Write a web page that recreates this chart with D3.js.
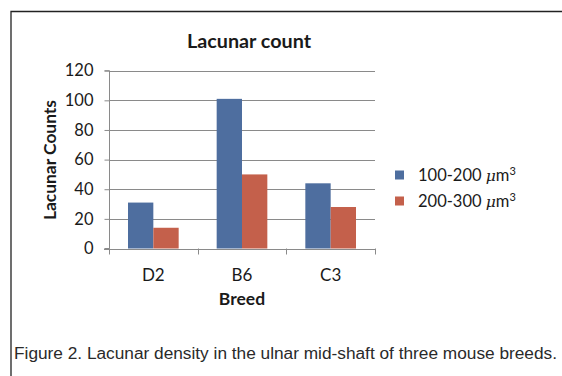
<!DOCTYPE html>
<html>
<head>
<meta charset="utf-8">
<script src="https://cdn.jsdelivr.net/npm/d3@7"></script>
<style>
  html, body { margin: 0; padding: 0; background: #fff; }
  svg { display: block; }
</style>
</head>
<body>
<svg id="chart" width="562" height="376"></svg>
<script>
// Lacunar counts per mouse breed, split by lacuna volume range
const breeds = ["D2", "B6", "C3"];
const seriesNames = ["100-200", "200-300"];
const counts100to200 = [31, 101, 44];
const counts200to300 = [14, 50, 28];
const yTicks = [0, 20, 40, 60, 80, 100, 120];
const seriesColors = ["#4e6e9f", "#c4604b"];

const seriesValues = [counts100to200, counts200to300];
const rows = breeds.map((b, i) => ({ breed: b, values: seriesValues.map(s => s[i]) }));

const svg = d3.select("#chart");
const font = "Lato, 'Noto Sans', sans-serif";
const ink = "#1a1a1a";

// Frame lines (top and left)
svg.append("path")
  .attr("d", "M11,376 V11.5 H562")
  .attr("fill", "none")
  .attr("stroke", "#222")
  .attr("stroke-width", 1.3);

const plot = { left: 109, right: 375, top: 70.7, bottom: 248.5 };

const x0 = d3.scaleBand().domain(breeds).range([plot.left, plot.right]).padding(0);
const x1 = d3.scaleBand().domain(d3.range(seriesNames.length))
  .range([0, x0.bandwidth()]).paddingInner(0).paddingOuter(0.75);
const y = d3.scaleLinear().domain([0, 120]).range([plot.bottom, plot.top]);

const gridColor = "#8a8a8a";

// Horizontal gridlines
svg.append("g").selectAll("line").data(yTicks.filter(t => t > 0)).join("line")
  .attr("x1", plot.left).attr("x2", plot.right)
  .attr("y1", d => Math.round(y(d)) + 0.5).attr("y2", d => Math.round(y(d)) + 0.5)
  .attr("stroke", gridColor).attr("stroke-width", 1);

// Bars
const groups = svg.append("g").selectAll("g").data(rows).join("g")
  .attr("transform", d => `translate(${x0(d.breed)},0)`);
groups.selectAll("rect").data(d => d.values.map((v, i) => ({ v, i }))).join("rect")
  .attr("x", d => x1(d.i))
  .attr("width", x1.bandwidth())
  .attr("y", d => y(d.v))
  .attr("height", d => y(0) - y(d.v))
  .attr("fill", d => seriesColors[d.i]);

// Y axis
const yAxis = svg.append("g")
  .attr("transform", `translate(${plot.left + 0.5},0)`)
  .call(d3.axisLeft(y).tickValues(yTicks).tickSize(5).tickPadding(11).tickFormat(d3.format("d")));
yAxis.select(".domain").attr("stroke", gridColor).attr("d", `M-5,${plot.top}H0V${plot.bottom}H-5`);
yAxis.selectAll(".tick line").attr("stroke", gridColor);
yAxis.selectAll("text").attr("font-family", font).attr("font-size", 16.5).attr("fill", ink);

// X axis
const xAxis = svg.append("g")
  .attr("transform", `translate(0,${Math.round(plot.bottom) + 0.5})`)
  .call(d3.axisBottom(x0).tickSize(0).tickPadding(19));
xAxis.select(".domain").attr("stroke", gridColor)
  .attr("d", `M${plot.left - 5},0H${plot.right}`);
xAxis.selectAll("text").attr("font-family", font).attr("font-size", 17).attr("fill", ink);
// Category separator ticks
svg.append("g").selectAll("line")
  .data(breeds.map(b => x0(b)).concat([plot.right])).join("line")
  .attr("x1", d => Math.round(d) + 0.5).attr("x2", d => Math.round(d) + 0.5)
  .attr("y1", plot.bottom).attr("y2", plot.bottom + 6)
  .attr("stroke", gridColor);

// Titles
svg.append("text").attr("x", 249).attr("y", 48)
  .attr("text-anchor", "middle").attr("font-family", font)
  .attr("font-size", 19).attr("font-weight", "bold").attr("fill", ink)
  .attr("textLength", 124).attr("lengthAdjust", "spacingAndGlyphs")
  .text("Lacunar count");

svg.append("text").attr("transform", "translate(56,160) rotate(-90)")
  .attr("text-anchor", "middle").attr("font-family", font)
  .attr("font-size", 17.5).attr("font-weight", "bold").attr("fill", ink)
  .attr("textLength", 120).attr("lengthAdjust", "spacingAndGlyphs")
  .text("Lacunar Counts");

svg.append("text").attr("x", (plot.left + plot.right) / 2).attr("y", 305)
  .attr("text-anchor", "middle").attr("font-family", font)
  .attr("font-size", 17.5).attr("font-weight", "bold").attr("fill", ink)
  .text("Breed");

// Legend
const legend = svg.append("g").attr("transform", "translate(395,175)");
const items = legend.selectAll("g").data(seriesNames).join("g")
  .attr("transform", (d, i) => `translate(0,${i * 26})`);
items.append("rect").attr("x", 0).attr("y", -4.5).attr("width", 9).attr("height", 9)
  .attr("fill", (d, i) => seriesColors[i]);
const lt = items.append("text").attr("x", 23).attr("y", 6)
  .attr("font-family", font).attr("font-size", 16.5).attr("fill", ink);
lt.append("tspan").text(d => d + " ");
lt.append("tspan").attr("font-style", "italic").attr("font-family", "'DejaVu Serif', serif").attr("font-size", 15.5).text("\u03bc");
lt.append("tspan").text("m");
lt.append("tspan").attr("font-size", 11).attr("dy", -6).text("3");

// Caption
svg.append("text").attr("x", 14).attr("y", 359)
  .attr("font-family", "'Liberation Sans', Arial, sans-serif")
  .attr("font-size", 16).attr("fill", "#2a2a2a")
  .attr("textLength", 543).attr("lengthAdjust", "spacingAndGlyphs")
  .text("Figure 2. Lacunar density in the ulnar mid-shaft of three mouse breeds.");
</script>
</body>
</html>
